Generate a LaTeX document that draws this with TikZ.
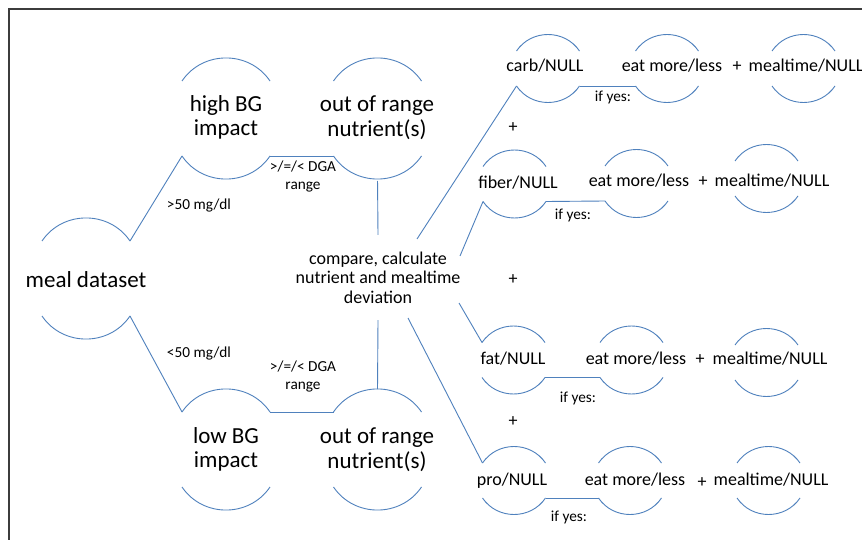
\documentclass[tikz,border=0pt]{standalone}
\usepackage{fontspec}
\setmainfont{Carlito}
\definecolor{arcblue}{RGB}{79,129,189}
\definecolor{framegray}{RGB}{60,60,60}
\tikzset{
  wire/.style={draw=arcblue, line width=0.9pt},
  bigtxt/.style={font=\fontsize{23}{24.5}\selectfont, align=center, inner sep=0pt},
  midtxt/.style={font=\fontsize{18}{19.5}\selectfont, inner sep=0pt, text height=12.5pt, text depth=0pt},
  cmptxt/.style={font=\fontsize{18}{19.5}\selectfont, align=center, inner sep=0pt,
                 minimum width=164pt, minimum height=85pt},
  smalltxt/.style={font=\fontsize{15.3}{18}\selectfont, align=center, inner sep=0pt},
}
% A bubble: a text node with an upper and a lower arc around it.
% #1 name, #2/#3 arc centre, #4 half width, #5 half gap, #6/#7 text centre, #8 style, #9 text
\newcommand\bubble[9]{%
  \node[#8] (#1) at (#6,#7) {#9};
  \coordinate (#1-tl) at (#2-#4,#3+#5);
  \coordinate (#1-tr) at (#2+#4,#3+#5);
  \coordinate (#1-bl) at (#2-#4,#3-#5);
  \coordinate (#1-br) at (#2+#4,#3-#5);
  \coordinate (#1-top) at (#2,{#3+#5+0.5*#4});
  \coordinate (#1-bot) at (#2,{#3-#5-0.5*#4});
  \draw[wire] (#1-tl) to[bend left=56,looseness=1.08] (#1-tr);
  \draw[wire] (#1-bl) to[bend right=56,looseness=1.08] (#1-br);
}
\newcommand\bigbubble[6]{\bubble{#1}{#2}{#3}{44}{37.5}{#4}{#5}{bigtxt}{#6}}
\newcommand\smallbubble[6]{\bubble{#1}{#2}{#3}{31.5}{17.5}{#4}{#5}{midtxt}{#6}}

\begin{document}
\begin{tikzpicture}[x=1pt,y=1pt]
\useasboundingbox (0,0) rectangle (862,-540);
\fill[white] (0,0) rectangle (862,-540);

% frame
\draw[framegray, line width=1.4pt] (9,-540) -- (9,-9) -- (862,-9);

% left part
\bigbubble{meal}{86}{-278.5}{86}{-279.5}{meal dataset}
\bigbubble{high}{226}{-118.5}{226}{-117.5}{high BG\\impact}
\bigbubble{oorh}{377.5}{-118.5}{377}{-117.5}{out of range\\nutrient(s)}
\bigbubble{low}{226}{-449.5}{226}{-449.5}{low BG\\impact}
\bigbubble{oorl}{377.5}{-449.5}{377}{-449.5}{out of range\\nutrient(s)}

\node[cmptxt] (cmp) at (378,-277.5) {compare, calculate\\nutrient and mealtime\\deviation};

% right part, one row per nutrient
\smallbubble{carb}{548}{-68.5}{545}{-65}{carb/NULL}
\smallbubble{eat1}{667}{-68.5}{672}{-65}{eat more/less}
\smallbubble{time1}{803.5}{-68.5}{806}{-65}{mealtime/NULL}

\smallbubble{fiber}{514.5}{-184}{518}{-182}{fiber/NULL}
\smallbubble{eat2}{636.5}{-183.5}{639}{-180}{eat more/less}
\smallbubble{time2}{766.5}{-178.5}{772}{-180}{mealtime/NULL}

\smallbubble{fat}{513.5}{-360}{513}{-358}{fat/NULL}
\smallbubble{eat3}{631.5}{-360}{636}{-358}{eat more/less}
\smallbubble{time3}{766.5}{-362.5}{770}{-358}{mealtime/NULL}

\smallbubble{pro}{514}{-480.5}{512}{-479}{pro/NULL}
\smallbubble{eat4}{630}{-480.5}{635}{-479}{eat more/less}
\smallbubble{time4}{768.5}{-480.5}{771}{-479}{mealtime/NULL}

% plus signs
\node[midtxt] (p1) at (737,-65) {+};
\node[midtxt] (p2) at (703,-180) {+};
\node[midtxt] (p3) at (700,-358) {+};
\node[midtxt] (p4) at (702,-481) {+};
\node[midtxt] (q1) at (513,-126) {+};
\node[midtxt] (q2) at (513,-278) {+};
\node[midtxt] (q3) at (513,-420) {+};

% connectors
\draw[wire] (meal-tr) -- (high-bl);
\draw[wire] (meal-br) -- (low-tl);
\draw[wire] (high-br) -- (oorh-bl);
\draw[wire] (low-tr) -- (oorl-tl);
\draw[wire, shorten <=3pt] (oorh-bot) -- (cmp.north);
\draw[wire, shorten >=1pt] (cmp.south) -- (oorl-top);
\draw[wire] ([shift={(39,38.5)}]cmp.center) -- (carb-bl);
\draw[wire] ([shift={(82,21.5)}]cmp.center) -- (fiber-bl);
\draw[wire] ([shift={(81,-25.5)}]cmp.center) -- (fat-tl);
\draw[wire] ([shift={(30,-40.5)}]cmp.center) -- (pro-tl);
\draw[wire] (carb-br) -- (eat1-bl);
\draw[wire] (fiber-br) -- (eat2-bl);
\draw[wire] (fat-br) -- (eat3-bl);
\draw[wire] (pro-br) -- (eat4-bl);

% labels
\node[smalltxt] (l1) at (199,-206) {>50 mg/dl};
\node[smalltxt] (l2) at (199,-354) {<50 mg/dl};
\node[smalltxt] (l3) at (303,-177) {>/=/< DGA\\range};
\node[smalltxt] (l4) at (303,-377) {>/=/< DGA\\range};
\node[smalltxt] (y1) at (613,-97) {if yes:};
\node[smalltxt] (y2) at (573,-215) {if yes:};
\node[smalltxt] (y3) at (578,-398) {if yes:};
\node[smalltxt] (y4) at (569,-517) {if yes:};
\end{tikzpicture}
\end{document}
